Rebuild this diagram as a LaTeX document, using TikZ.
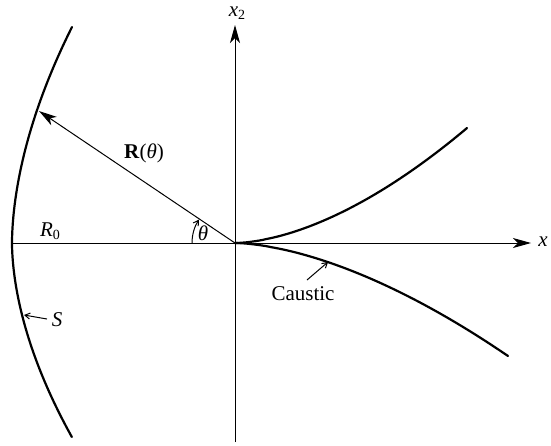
\documentclass[tikz,border=0pt]{standalone}
\usepackage{fontspec}
\setmainfont{Liberation Serif}
\usetikzlibrary{arrows.meta}
\newcommand{\lowsub}[1]{\raisebox{-0.35ex}{\fontsize{14}{16}\selectfont #1}}
\begin{document}
\begin{tikzpicture}[x=1pt,y=-1pt,
  axis/.style={line width=1pt},
  bigarrow/.style={-{Stealth[length=18pt,width=10pt,inset=5pt]}},
  curve/.style={line width=2.2pt,line cap=round},
  smallarrow/.style={-{Straight Barb[length=5pt,width=6pt]},line width=1pt},
  lab/.style={font=\fontsize{21}{24}\selectfont,inner sep=0pt}]
\useasboundingbox (0,0) rectangle (551,445);
\coordinate (O) at (235,243);
\coordinate (L) at (12,243);
\coordinate (XE) at (531,243);
\coordinate (YT) at (235,25);
\coordinate (YB) at (235,442);
\coordinate (RT) at (39,111);
% axes
\draw[axis] (L) -- (O);
\draw[axis,bigarrow] (O) -- (XE);
\draw[axis,bigarrow] (YB) -- (YT);
\node[lab] (xl) at (543,242) {\textit{x}};
\node[lab] (x2l) at (237,13) {\textit{x}\lowsub{2}};
% surface S
\draw[curve] plot[domain=-216:0,samples=60] ({12+0.00377*(abs(\x))^1.8},{243+\x})
  -- plot[domain=0:194,samples=60] ({12+0.00457*(abs(\x))^1.8},{243+\x});
% R vector
\draw[axis,bigarrow] (O) -- (RT);
\node[lab] (Rl) at (144,153) {\textbf{R}(\textit{θ})};
\node[lab] (R0) at (50,231) {\textit{R}\lowsub{0}};
% theta arc
\draw[line width=1pt,-{Straight Barb[length=5pt,width=6pt]}] (192,243) arc[start angle=180,end angle=213,radius=43];
\node[lab] (th) at (203,233) {\textit{θ}};
% caustic
\draw[curve] (O) -- plot[domain=0.5:232,samples=70] ({235+\x},{243-115*(\x/232)^1.7});
\draw[curve] (O) -- plot[domain=0.5:273,samples=70] ({235+\x},{243+113*(\x/273)^1.65});
% labels
\node[lab] (Sl) at (57,320) {\textit{S}};
\coordinate (Sa) at (24,315);
\draw[smallarrow] (47,319) -- (Sa);
\node[lab] (Cl) at (303,294) {Caustic};
\coordinate (Ca) at (328,262);
\draw[smallarrow] (307,280) -- (Ca);
\end{tikzpicture}
\end{document}
